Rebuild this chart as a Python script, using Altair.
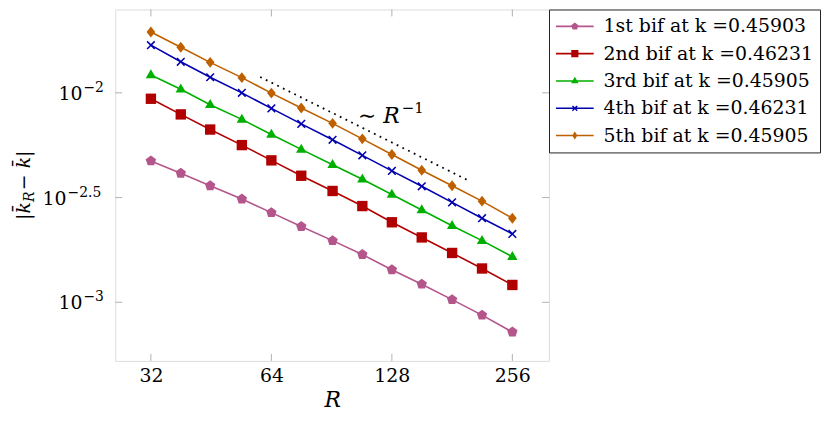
import altair as alt
import pandas as pd

# ---------------- data ----------------
R = [32, 38, 45, 54, 64, 76, 91, 108, 128, 152, 181, 215, 256]
s1 = [0.00473, 0.00413, 0.00360, 0.00311, 0.00268, 0.00230, 0.00197, 0.00169, 0.00143, 0.00122, 0.00103, 0.000868, 0.000721]
s2 = [0.00937, 0.00789, 0.00668, 0.00563, 0.00476, 0.00402, 0.00340, 0.00288, 0.00241, 0.00204, 0.00172, 0.00145, 0.00121]
s3 = [0.01217, 0.01041, 0.00877, 0.00747, 0.00632, 0.00537, 0.00454, 0.00387, 0.00327, 0.00276, 0.00232, 0.00197, 0.00165]
s4 = [0.01689, 0.01407, 0.01187, 0.01000, 0.00843, 0.00711, 0.00597, 0.00503, 0.00424, 0.00358, 0.00300, 0.00252, 0.00212]
s5 = [0.01952, 0.01652, 0.01398, 0.01182, 0.00997, 0.00846, 0.00715, 0.00603, 0.00508, 0.00427, 0.00360, 0.00304, 0.00252]
names = ["1st bif at k =0.45903", "2nd bif at k =0.46231", "3rd bif at k =0.45905",
         "4th bif at k =0.46231", "5th bif at k =0.45905"]
colors = ["#b4568b", "#b00000", "#00b000", "#0000b0", "#bf6000"]

ref_R = [60, 198]
ref_v = [0.0119, 0.00383]
label_R = [134.7]
label_v = [0.00721]
label_main = ["\u223c R"]
label_exp = ["\u22121"]

xticks = [32, 64, 128, 256]
yticks = [0.001, 0.0031623, 0.01]
ytick_int = [0.001, 0.01]
ytick_int_exp = ["\u22123", "\u22122"]
ytick_half = [0.0031623]
ytick_half_exp = ["\u22122.5"]

ytitle_parts = ["|k\u0304", "R", " \u2212 k\u0304|"]

# ---------------- marker paths ----------------
plot_shapes = [
    "M0,-1L0.951,-0.309L0.588,0.809L-0.588,0.809L-0.951,-0.309Z",
    "M-0.95,-0.95H0.95V0.95H-0.95Z",
    "M0,-1.05L0.95,0.6L-0.95,0.6Z",
    "M0,-0.2L0.6,-0.8L0.8,-0.6L0.2,0L0.8,0.6L0.6,0.8L0,0.2L-0.6,0.8L-0.8,0.6L-0.2,0L-0.8,-0.6L-0.6,-0.8Z",
    "M0,-1L0.8,0L0,1L-0.8,0Z",
]
LINE = "M-1.9,-0.08H1.9V0.08H-1.9Z"
legend_shapes = [
    LINE + "M0,-0.38L0.361,-0.117L0.223,0.307L-0.223,0.307L-0.361,-0.117Z",
    LINE + "M-0.36,-0.36H0.36V0.36H-0.36Z",
    LINE + "M0,-0.42L0.38,0.24L-0.38,0.24Z",
    LINE + "M0,-0.1L0.19,-0.29L0.29,-0.19L0.1,0L0.29,0.19L0.19,0.29L0,0.1L-0.19,0.29L-0.29,0.19L-0.1,0L-0.29,-0.19L-0.19,-0.29Z",
    LINE + "M0,-0.4L0.26,0L0,0.4L-0.26,0Z",
]

rows = []
for name, vals in zip(names, [s1, s2, s3, s4, s5]):
    for r, v in zip(R, vals):
        rows.append({"R": r, "v": v, "series": name})
df = pd.DataFrame(rows)
ref_df = pd.DataFrame({"R": ref_R, "v": ref_v})
lab_df = pd.DataFrame({"R": label_R, "v": label_v, "t": label_main, "e": label_exp})
xt_df = pd.DataFrame({"R": xticks})
yt_df = pd.DataFrame({"v": yticks})
yi_df = pd.DataFrame({"v": ytick_int, "e": ytick_int_exp, "b": ["10"] * len(ytick_int)})
yh_df = pd.DataFrame({"v": ytick_half, "e": ytick_half_exp, "b": ["10"] * len(ytick_half)})
yt_title_df = pd.DataFrame({"a": [ytitle_parts[0]], "b": [ytitle_parts[1]], "c": [ytitle_parts[2]]})

FONT = "DejaVu Serif"
W, H = 437, 354
TICK = "#b0b0b0"

xscale = alt.Scale(type="log", domain=[26.06, 316.1], nice=False, zero=False)
yscale = alt.Scale(type="log", domain=[0.000525, 0.02500], nice=False, zero=False)

xenc = alt.X("R:Q", scale=xscale,
             axis=alt.Axis(values=xticks, title="R", titleFontStyle="italic",
                           titleFontSize=22, titleFont=FONT, titlePadding=4,
                           labelFont=FONT, labelFontSize=19, labelPadding=6,
                           labelColor="black", titleColor="black", titleFontWeight="normal",
                           ticks=False, tickSize=0, domain=False, grid=False,
                           labelFlush=False))
yenc = alt.Y("v:Q", scale=yscale,
             axis=alt.Axis(values=yticks, title=None, labels=False,
                           ticks=False, tickSize=0, domain=False, grid=False))

cscale = alt.Scale(domain=names, range=colors)

lines = alt.Chart(df).mark_line(strokeWidth=1.6).encode(
    x=xenc, y=yenc,
    color=alt.Color("series:N", scale=cscale, legend=None),
    detail="series:N",
)
points = alt.Chart(df).mark_point(filled=True, size=121, opacity=1, strokeWidth=0).encode(
    x="R:Q", y="v:Q",
    color=alt.Color("series:N", scale=cscale, legend=None),
    shape=alt.Shape("series:N", scale=alt.Scale(domain=names, range=plot_shapes), legend=None),
)
plot = alt.layer(lines, points)

leg = alt.Legend(title=None, orient="none", legendX=W, legendY=0,
                 labelFont=FONT, labelFontSize=19, labelColor="black",
                 strokeColor="#222222", fillColor="white", padding=7, cornerRadius=0,
                 rowPadding=7.5, symbolSize=400, symbolOpacity=1, symbolStrokeWidth=0,
                 symbolOffset=9, labelOffset=19, labelLimit=400)
legend_layer = alt.Chart(df).mark_point(filled=True, size=400, opacity=0).encode(
    x="R:Q", y="v:Q",
    color=alt.Color("series:N", scale=alt.Scale(domain=names, range=colors), legend=leg),
    shape=alt.Shape("series:N", scale=alt.Scale(domain=names, range=legend_shapes), legend=leg),
)

ref_line = alt.Chart(ref_df).mark_line(color="black", strokeWidth=1.8, strokeDash=[1.8, 4.6]).encode(
    x="R:Q", y="v:Q")
ref_text = alt.Chart(lab_df).mark_text(font=FONT, fontSize=22, fontStyle="italic",
                                       align="right", baseline="alphabetic", color="black",
                                       dx=-1).encode(x="R:Q", y="v:Q", text="t:N")
ref_exp = alt.Chart(lab_df).mark_text(font=FONT, fontSize=15, align="left",
                                      baseline="alphabetic", color="black",
                                      dx=1, dy=-10).encode(x="R:Q", y="v:Q", text="e:N")

# y tick labels 10^e
ybase_i = alt.Chart(yi_df).mark_text(font=FONT, fontSize=19, align="right", baseline="alphabetic",
                                     color="black", dy=7).encode(
    y="v:Q", x=alt.value(-33), text="b:N")
yexp_i = alt.Chart(yi_df).mark_text(font=FONT, fontSize=14, align="left", baseline="alphabetic",
                                    color="black", dy=-1).encode(
    y="v:Q", x=alt.value(-32), text="e:N")
ybase_h = alt.Chart(yh_df).mark_text(font=FONT, fontSize=19, align="right", baseline="alphabetic",
                                     color="black", dy=7).encode(
    y="v:Q", x=alt.value(-49), text="b:N")
yexp_h = alt.Chart(yh_df).mark_text(font=FONT, fontSize=14, align="left", baseline="alphabetic",
                                    color="black", dy=-1).encode(
    y="v:Q", x=alt.value(-48), text="e:N")

# y axis title |k_R - k|
TX, TY = -86, 212
yt_a = alt.Chart(yt_title_df).mark_text(font=FONT, fontSize=19, fontStyle="italic", angle=270,
                                        align="left", baseline="alphabetic", color="black").encode(
    x=alt.value(TX), y=alt.value(TY), text="a:N")
yt_b = alt.Chart(yt_title_df).mark_text(font=FONT, fontSize=14, fontStyle="italic", angle=270,
                                        align="left", baseline="alphabetic", color="black",
                                        dx=18, dy=4).encode(
    x=alt.value(TX), y=alt.value(TY), text="b:N")
yt_c = alt.Chart(yt_title_df).mark_text(font=FONT, fontSize=19, fontStyle="italic", angle=270,
                                        align="left", baseline="alphabetic", color="black",
                                        dx=30).encode(
    x=alt.value(TX), y=alt.value(TY), text="c:N")

xt_bottom = alt.Chart(xt_df).mark_rule(color=TICK, strokeWidth=1).encode(
    x="R:Q", y=alt.value(H), y2=alt.value(H - 7))
xt_top = alt.Chart(xt_df).mark_rule(color=TICK, strokeWidth=1).encode(
    x="R:Q", y=alt.value(0), y2=alt.value(7))
yt_left = alt.Chart(yt_df).mark_rule(color=TICK, strokeWidth=1).encode(
    y="v:Q", x=alt.value(0), x2=alt.value(7))
yt_right = alt.Chart(yt_df).mark_rule(color=TICK, strokeWidth=1).encode(
    y="v:Q", x=alt.value(W), x2=alt.value(W - 7))

chart = alt.layer(
    xt_bottom, xt_top, yt_left, yt_right, ref_line, ref_text, ref_exp,
    ybase_i, yexp_i, ybase_h, yexp_h, yt_a, yt_b, yt_c,
    plot, legend_layer
).resolve_scale(
    color="independent", shape="independent"
).resolve_legend(
    color="independent", shape="independent"
).properties(
    width=W, height=H,
    autosize=alt.AutoSizeParams(type="none"),
    padding={"left": 108, "top": 0, "right": 275, "bottom": 54},
).configure_view(
    stroke="black", strokeWidth=1.2
).configure(background="white")

chart.save("out.html", embed_options={"renderer": "svg", "actions": False})
